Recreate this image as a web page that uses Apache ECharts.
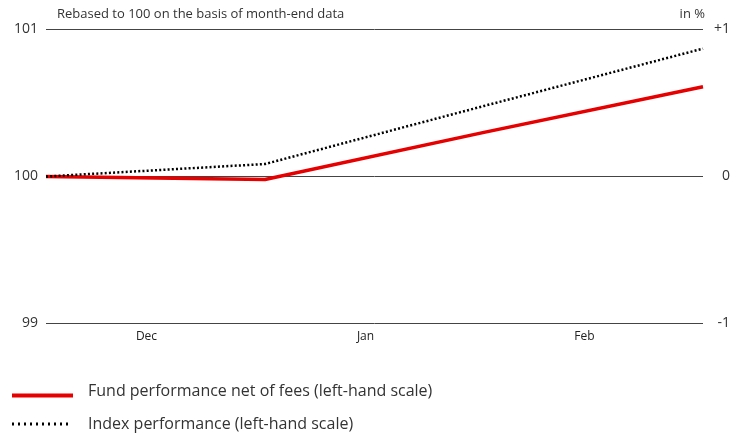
<!DOCTYPE html>
<html><head><meta charset="utf-8">
<script src="https://cdn.jsdelivr.net/npm/echarts@6/dist/echarts.min.js"></script>
<style>html,body{margin:0;padding:0;background:#fff}#c{width:737px;height:435px}</style>
</head><body><div id="c"></div>
<script>
const points = ['Nov-end', 'Dec-end', 'Jan-end', 'Feb-end'];
const monthLabels = ['Dec', 'Jan', 'Feb'];
const fundValues = [100, 99.98, 100.30, 100.61];
const indexValues = [100, 100.085, 100.48, 100.87];
const leftTicks = [99, 100, 101];
const rightTicks = ['-1', '0', '+1'];
const fundName = 'Fund performance net of fees (left-hand scale)';
const indexName = 'Index performance (left-hand scale)';
const subtitle = 'Rebased to 100 on the basis of month-end data';
const unitText = 'in %';

const FONT = 'Open Sans';
const chart = echarts.init(document.getElementById('c'));
chart.setOption({
  animation: false,
  textStyle: { fontFamily: FONT },
  grid: { left: 46, right: 34, top: 29.5, bottom: 111.5 },
  xAxis: [
    { type: 'category', data: points, boundaryGap: false,
      axisLine: { show: false }, axisTick: { show: false }, axisLabel: { show: false }, splitLine: { show: false } },
    { type: 'category', data: monthLabels, boundaryGap: true, position: 'bottom',
      axisLine: { show: false }, axisTick: { show: false }, splitLine: { show: false },
      axisLabel: { color: '#222', fontSize: 12, margin: 7, padding: [0, 18, 0, 0], fontFamily: FONT } }
  ],
  yAxis: [
    { type: 'value', min: leftTicks[0], max: leftTicks[2], interval: 1,
      axisLine: { show: false }, axisTick: { show: false },
      axisLabel: { color: '#333', fontSize: 14, margin: 8, fontFamily: FONT },
      splitLine: { lineStyle: { color: '#444', width: 1 } } },
    { type: 'value', min: -1, max: 1, interval: 1, position: 'right',
      axisLine: { show: false }, axisTick: { show: false }, splitLine: { show: false },
      axisLabel: { color: '#333', fontSize: 14, margin: 27, align: 'right', fontFamily: FONT,
        formatter: v => rightTicks[Math.round(v) + 1] } }
  ],
  series: [
    { name: indexName, type: 'line', data: indexValues, xAxisIndex: 0, yAxisIndex: 0,
      symbol: 'none', lineStyle: { color: '#000', width: 2.5, type: [2, 2.2] }, z: 3 },
    { name: fundName, type: 'line', data: fundValues, xAxisIndex: 0, yAxisIndex: 0,
      symbol: 'none', lineStyle: { color: '#e60000', width: 3.5 }, z: 2 }
  ],
  graphic: [
    { type: 'text', left: 57, top: 8, style: { text: subtitle, fontSize: 13, fill: '#333', fontFamily: FONT } },
    { type: 'text', right: 32, top: 8, style: { text: unitText, fontSize: 13, fill: '#333', fontFamily: FONT } },
    { type: 'line', shape: { x1: 12, y1: 395.5, x2: 73, y2: 395.5 }, style: { stroke: '#e60000', lineWidth: 4 } },
    { type: 'text', x: 88, y: 391.5, style: { text: fundName, fontSize: 16, fill: '#333', fontFamily: FONT, verticalAlign: 'middle' } },
    { type: 'line', shape: { x1: 12, y1: 424, x2: 70, y2: 424 }, style: { stroke: '#000', lineWidth: 3, lineDash: [2, 4] } },
    { type: 'text', x: 88, y: 424.5, style: { text: indexName, fontSize: 16, fill: '#333', fontFamily: FONT, verticalAlign: 'middle' } }
  ]
});
</script></body></html>
